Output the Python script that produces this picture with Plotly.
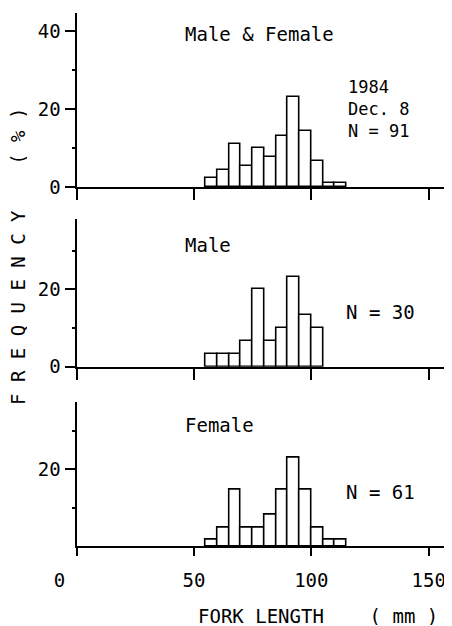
import plotly.graph_objects as go

# ---- data ----
bin_centers = [57.5, 62.5, 67.5, 72.5, 77.5, 82.5, 87.5, 92.5, 97.5, 102.5, 107.5, 112.5]
bin_width = 5

all_pct = [2.2, 4.4, 11.0, 5.5, 9.9, 7.7, 13.2, 23.1, 14.3, 6.6, 1.1, 1.1]
male_pct = [3.3, 3.3, 3.3, 6.7, 20.0, 6.7, 10.0, 23.3, 13.3, 10.0]
female_pct = [1.6, 4.9, 14.8, 4.9, 4.9, 8.2, 14.8, 23.0, 14.8, 4.9, 1.6, 1.6]

x_tick_vals = [0, 50, 100, 150]
x_tick_text = ["0\u00a0\u00a0\u00a0", "50", "100", "150"]
y_ticks_top = [0, 20, 40]
y_ticks_mid = [0, 20]
y_ticks_bot = [20]
y_minor = [10, 30]

panel_titles = ["Male & Female", "Male", "Female"]
info_top = ["1984", "Dec. 8", "N = 91"]
n_mid = "N = 30"
n_bot = "N = 61"
x_title = "FORK LENGTH    ( mm )"
y_title = "F R E Q U E N C Y    (\u2009%\u2009)"

# ---- layout helpers (page pixels -> paper fractions; page has an 8px body margin) ----
OFF = 8
W, H = 452 - OFF, 626 - OFF
FONT = "DejaVu Sans Mono"
FS = 19


def px(xp):
    return (xp - OFF) / W


def py(yp):
    return 1 - (yp - OFF) / H


x_dom = [px(76.5), px(451)]
x_range = [0, 159.5]

fig = go.Figure()
for vals, xa, ya in [(all_pct, "x", "y"), (male_pct, "x2", "y2"), (female_pct, "x3", "y3")]:
    fig.add_trace(go.Bar(
        x=bin_centers[:len(vals)], y=vals, width=bin_width,
        marker=dict(color="white", line=dict(color="black", width=1.6)),
        xaxis=xa, yaxis=ya, showlegend=False, hoverinfo="skip",
    ))

xcommon = dict(range=x_range, domain=x_dom, showgrid=False, zeroline=False,
               showline=True, linecolor="black", linewidth=2,
               ticks="outside", tickcolor="black", tickwidth=2,
               tickmode="array", tickvals=x_tick_vals, ticktext=x_tick_text,
               tickfont=dict(family=FONT, size=FS, color="black"))
ycommon = dict(showgrid=False, zeroline=False, showline=True, linecolor="black",
               linewidth=2, ticks="outside", ticklen=10, tickcolor="black", tickwidth=2,
               tickmode="array", tickfont=dict(family=FONT, size=FS, color="black"),
               ticklabelstandoff=0,
               minor=dict(tickmode="array", tickvals=y_minor, ticks="outside",
                          ticklen=3, tickwidth=2, tickcolor="black"))

fig.update_layout(
    width=W, height=H,
    margin=dict(l=0, r=0, t=0, b=0, autoexpand=False),
    paper_bgcolor="white", plot_bgcolor="white",
    bargap=0,
    xaxis=dict(xcommon, anchor="y", ticklen=11, showticklabels=False),
    xaxis2=dict(xcommon, anchor="y2", ticklen=11, showticklabels=False),
    xaxis3=dict(xcommon, anchor="y3", ticklen=8, showticklabels=True, ticklabelstandoff=8),
    yaxis=dict(ycommon, anchor="x", range=[0, 44.6], domain=[py(187), py(13)],
               tickvals=y_ticks_top),
    yaxis2=dict(ycommon, anchor="x2", range=[0, 38.2], domain=[py(366.7), py(219)],
                tickvals=y_ticks_mid),
    yaxis3=dict(ycommon, anchor="x3", range=[0, 37.6], domain=[py(546.3), py(401.7)],
                tickvals=y_ticks_bot),
)


def label(text, xp, yp, size=FS, angle=0, xanchor="left", height=None):
    kw = {}
    if height is not None:
        kw["height"] = height
    fig.add_annotation(text=text, x=px(xp), y=py(yp), xref="paper", yref="paper",
                       xanchor=xanchor, yanchor="middle", showarrow=False, align="left",
                       borderpad=0, borderwidth=0,
                       textangle=angle, font=dict(family=FONT, size=size, color="black"),
                       **kw)


label(panel_titles[0], 185, 34)
label("<br>".join(info_top), 348, 109, size=17)
label(panel_titles[1], 185, 245)
label(n_mid, 346, 312)
label(panel_titles[2], 185, 425)
label(n_bot, 346, 492)
label(x_title, 318, 616, xanchor="center", height=18)
label(y_title, 18, 257, angle=-90, xanchor="center", height=18)

fig.write_html("out.html")
